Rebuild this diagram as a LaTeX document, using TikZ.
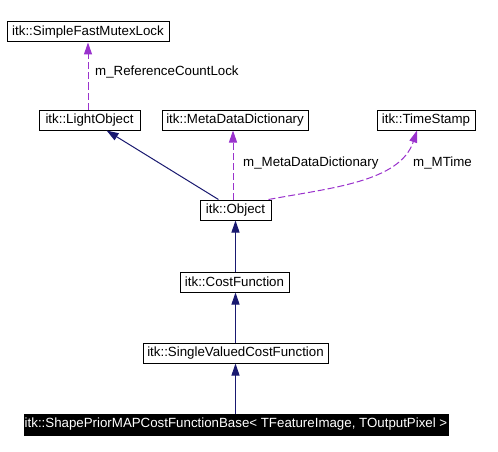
\documentclass[tikz,border=0pt]{standalone}
\usepackage{fontspec}
\setmainfont{Liberation Sans}
\usetikzlibrary{arrows.meta}
\definecolor{inhblue}{HTML}{191970}
\definecolor{mempurple}{HTML}{9A32CD}
\begin{document}
\begin{tikzpicture}[x=1pt,y=-1pt,
  cls/.style={draw=black,line width=1pt,fill=white,inner sep=0pt,minimum height=20pt,
    font=\fontsize{13.3}{16}\selectfont,text=black},
  focus/.style={cls,fill=black,text=white},
  inh/.style={draw=inhblue,line width=1pt,-{Triangle[length=12pt,width=8pt,fill=inhblue]}},
  mem/.style={draw=mempurple,line width=1pt,dash pattern=on 7pt off 3pt,
    -{Triangle[length=12pt,width=8pt,fill=mempurple]}},
  lbl/.style={font=\fontsize{13.3}{16}\selectfont,inner sep=0pt,anchor=west,text=black}]
\useasboundingbox (0,0) rectangle (498,452);
\fill[white] (0,0) rectangle (498,452);
\node[cls,minimum width=162pt] (mutex) at (88,32) {itk::SimpleFastMutexLock};
\node[cls,minimum width=101pt] (light) at (89.5,120) {itk::LightObject};
\node[cls,minimum width=146pt] (meta) at (235,120) {itk::MetaDataDictionary};
\node[cls,minimum width=98pt] (time) at (426,120) {itk::TimeStamp};
\node[cls,minimum width=71pt] (object) at (235.5,210) {itk::Object};
\node[cls,minimum width=109pt] (cost) at (234.5,282) {itk::CostFunction};
\node[cls,minimum width=185pt] (single) at (235.5,353) {itk::SingleValuedCostFunction};
\node[focus,minimum width=424pt,minimum height=21pt] (shape) at (236,424.5) {itk::ShapePriorMAPCostFunctionBase< TFeatureImage, TOutputPixel >};

\draw[mem] ([xshift=-1.5pt]light.north) -- (mutex.south);
\node[lbl] (l1) at (95,72) {m\_ReferenceCountLock};
\draw[inh] (object) -- (light);
\draw[mem] ([xshift=-2.5pt]object.north) -- ([xshift=-2pt]meta.south);
\node[lbl] (l2) at (243,163) {m\_MetaDataDictionary};
\draw[mem] ([xshift=-3pt]object.north east) .. controls (330,188) and (400,182) .. ([xshift=-9pt]time.south);
\node[lbl] (l3) at (413,163) {m\_MTime};
\draw[inh] (cost.north -| object.south) -- (object.south);
\draw[inh] (single.north) -- (single.north |- cost.south);
\draw[inh] (shape.north -| single.north) -- (single.south);
\end{tikzpicture}
\end{document}
